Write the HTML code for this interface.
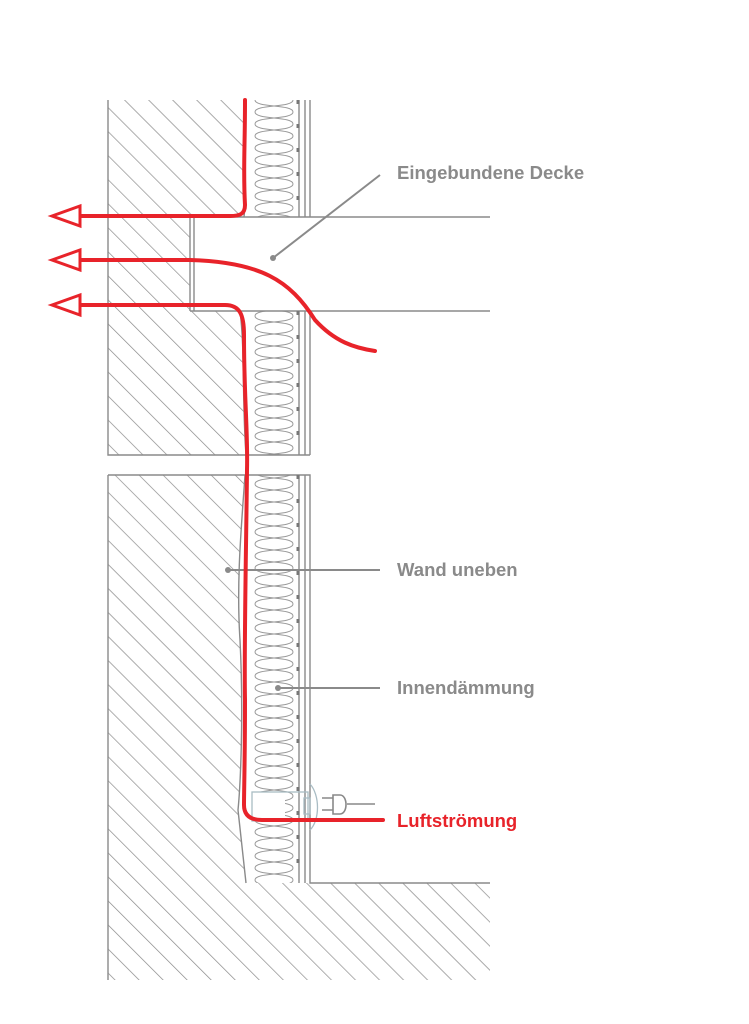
<!DOCTYPE html>
<html><head><meta charset="utf-8"><style>
html,body{margin:0;padding:0;background:#fff;width:749px;height:1024px;overflow:hidden}
text{font-family:"Liberation Sans",sans-serif;font-weight:bold}
</style></head><body>
<svg width="749" height="1024" viewBox="0 0 749 1024" xmlns="http://www.w3.org/2000/svg">
<defs>
<pattern id="h" patternUnits="userSpaceOnUse" width="17" height="17" patternTransform="rotate(-45)">
<line x1="0" y1="0" x2="0" y2="17" stroke="#8a8a8a" stroke-width="1.4"/>
</pattern>
<pattern id="ins" patternUnits="userSpaceOnUse" x="251" y="100" width="46" height="24">
<path d="M4,0 C4,8 42,4 42,12 C42,20 4,16 4,24" fill="none" stroke="#999" stroke-width="1"/>
<path d="M42,0 C42,8 4,4 4,12 C4,20 42,16 42,24" fill="none" stroke="#999" stroke-width="1"/>
</pattern>
<clipPath id="c1"><path d="M108,100 H245 C242,150 247,190 244,217 H190 V311 H240 C245,350 242,400 246,455 H108Z"/></clipPath>
<clipPath id="c2"><path d="M108,475 H245 C242,520 236,580 240,640 C244,720 240,790 238,810 L246,883 H490 V980 H108Z"/></clipPath>
</defs>
<rect x="100" y="90" width="400" height="900" fill="url(#h)" clip-path="url(#c1)"/>
<rect x="100" y="470" width="400" height="520" fill="url(#h)" clip-path="url(#c2)"/>
<rect x="251" y="100" width="46" height="117" fill="url(#ins)"/>
<rect x="251" y="311" width="46" height="144" fill="url(#ins)"/>
<rect x="251" y="475" width="46" height="408" fill="url(#ins)"/>
<g fill="none" stroke="#8a8a8a" stroke-width="1.4">
<path d="M108,100 V455 H310 M108,475 V980 M108,475 H310 V883 H490 M245,100 C242,150 247,190 244,217 M240,311 C245,350 242,400 246,455"/>
<path d="M245,475 C242,520 236,580 240,640 C244,720 240,790 238,810 L246,883"/>
<path d="M190,217 H490 M190,311 H490 M190,217 V311 M194,217 V311"/>
<path d="M310,100 V217 M305,100 V217 M299,100 V217 M310,311 V455 M305,311 V455 M299,311 V455 M305,475 V883 M299,475 V883"/>
</g>
<g stroke="#777" stroke-width="3" stroke-dasharray="4,20"><line x1="298" y1="100" x2="298" y2="217"/><line x1="298" y1="311" x2="298" y2="455"/><line x1="298" y1="475" x2="298" y2="883"/></g>
<rect x="252" y="792" width="33" height="28" fill="#fff"/>
<g fill="none" stroke="#a9bcc4" stroke-width="1.3"><rect x="252" y="792" width="56" height="29"/><rect x="304" y="798" width="6" height="16"/><path d="M310,784 C320,795 320,820 310,830"/></g>
<g fill="none" stroke="#888" stroke-width="1.6"><path d="M322,798 H333 M322,810 H333 M333,795 H340 C348,795 348,814 340,814 H333Z M347,804 H375"/></g>
<g fill="none" stroke="#8a8a8a" stroke-width="2"><path d="M380,175 L273,258 M380,570 H228 M380,688 H278"/></g>
<g fill="#8a8a8a"><circle cx="273" cy="258" r="3"/><circle cx="228" cy="570" r="3"/><circle cx="278" cy="688" r="3"/></g>
<g fill="none" stroke="#e8232a" stroke-width="4" stroke-linecap="round">
<path d="M245,100 C245,150 243,170 245,205 C245,214 240,216 230,216 H80"/>
<path d="M80,260 H190 C260,262 290,280 315,320 C335,342 355,348 375,351"/>
<path d="M80,305 H225 C240,305 244,315 244,335 C244,400 248,430 247,470 C246,560 244,650 245,700 C245,760 244,790 244,805 C244,815 250,820 262,820 H383"/>
</g>
<g fill="#fff" stroke="#e8232a" stroke-width="3" stroke-linejoin="miter">
<path d="M52,216 L80,206 V226Z"/><path d="M52,260 L80,250 V270Z"/><path d="M52,305 L80,295 V315Z"/>
</g>
<text x="397" y="179" font-size="18.5" fill="#8a8a8a">Eingebundene Decke</text>
<text x="397" y="576" font-size="18.5" fill="#8a8a8a">Wand uneben</text>
<text x="397" y="694" font-size="18.5" fill="#8a8a8a">Innendämmung</text>
<text x="397" y="827" font-size="18.5" fill="#e8232a">Luftströmung</text>
</svg>
</body></html>
